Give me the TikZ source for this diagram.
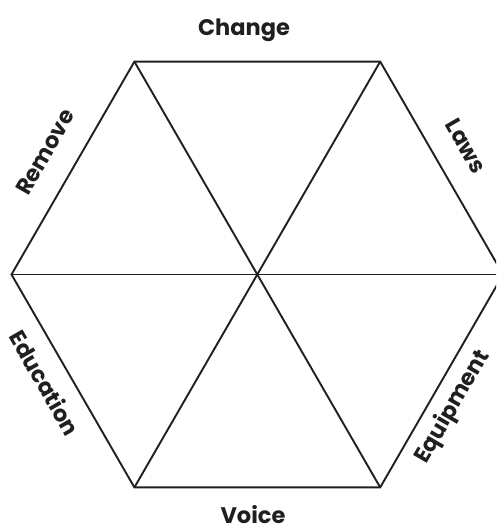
\documentclass[tikz,border=0pt]{standalone}
\usepackage{fontspec}
\setmainfont{Poppins}
\tikzset{
  edge/.style={line width=1.9pt, line join=miter, color=black!88},
  lab/.style={font=\fontsize{22.5}{26}\selectfont\bfseries, text=black!88, inner sep=0pt}
}
\begin{document}
\begin{tikzpicture}[x=1pt,y=1pt]
\useasboundingbox (0,0) rectangle (496,527);
\clip (0,0) rectangle (496,527);
\coordinate (C) at (257.3,252.5);
\coordinate (R) at (503.1,252.5);
\coordinate (TR) at (380.2,465.4);
\coordinate (TL) at (134.4,465.4);
\coordinate (L) at (11.5,252.5);
\coordinate (BL) at (134.4,39.6);
\coordinate (BR) at (380.2,39.6);
\draw[edge] (R) -- (TR) -- (TL) -- (L) -- (BL) -- (BR) -- cycle;
\draw[edge] (L) -- (R);
\draw[edge] (TL) -- (BR);
\draw[edge] (TR) -- (BL);
\node[lab, anchor=base] (change) at (244,491.5) {Change};
\node[lab, anchor=base] (voice) at (253,3.5) {Voice};
\node[lab, rotate=60] (remove) at (45,375) {Remove};
\node[lab, rotate=-60] (laws) at (466,381) {Laws};
\node[lab, rotate=-60] (education) at (45,144) {Education};
\node[lab, rotate=60] (equipment) at (453,120) {Equipment};
\end{tikzpicture}
\end{document}
